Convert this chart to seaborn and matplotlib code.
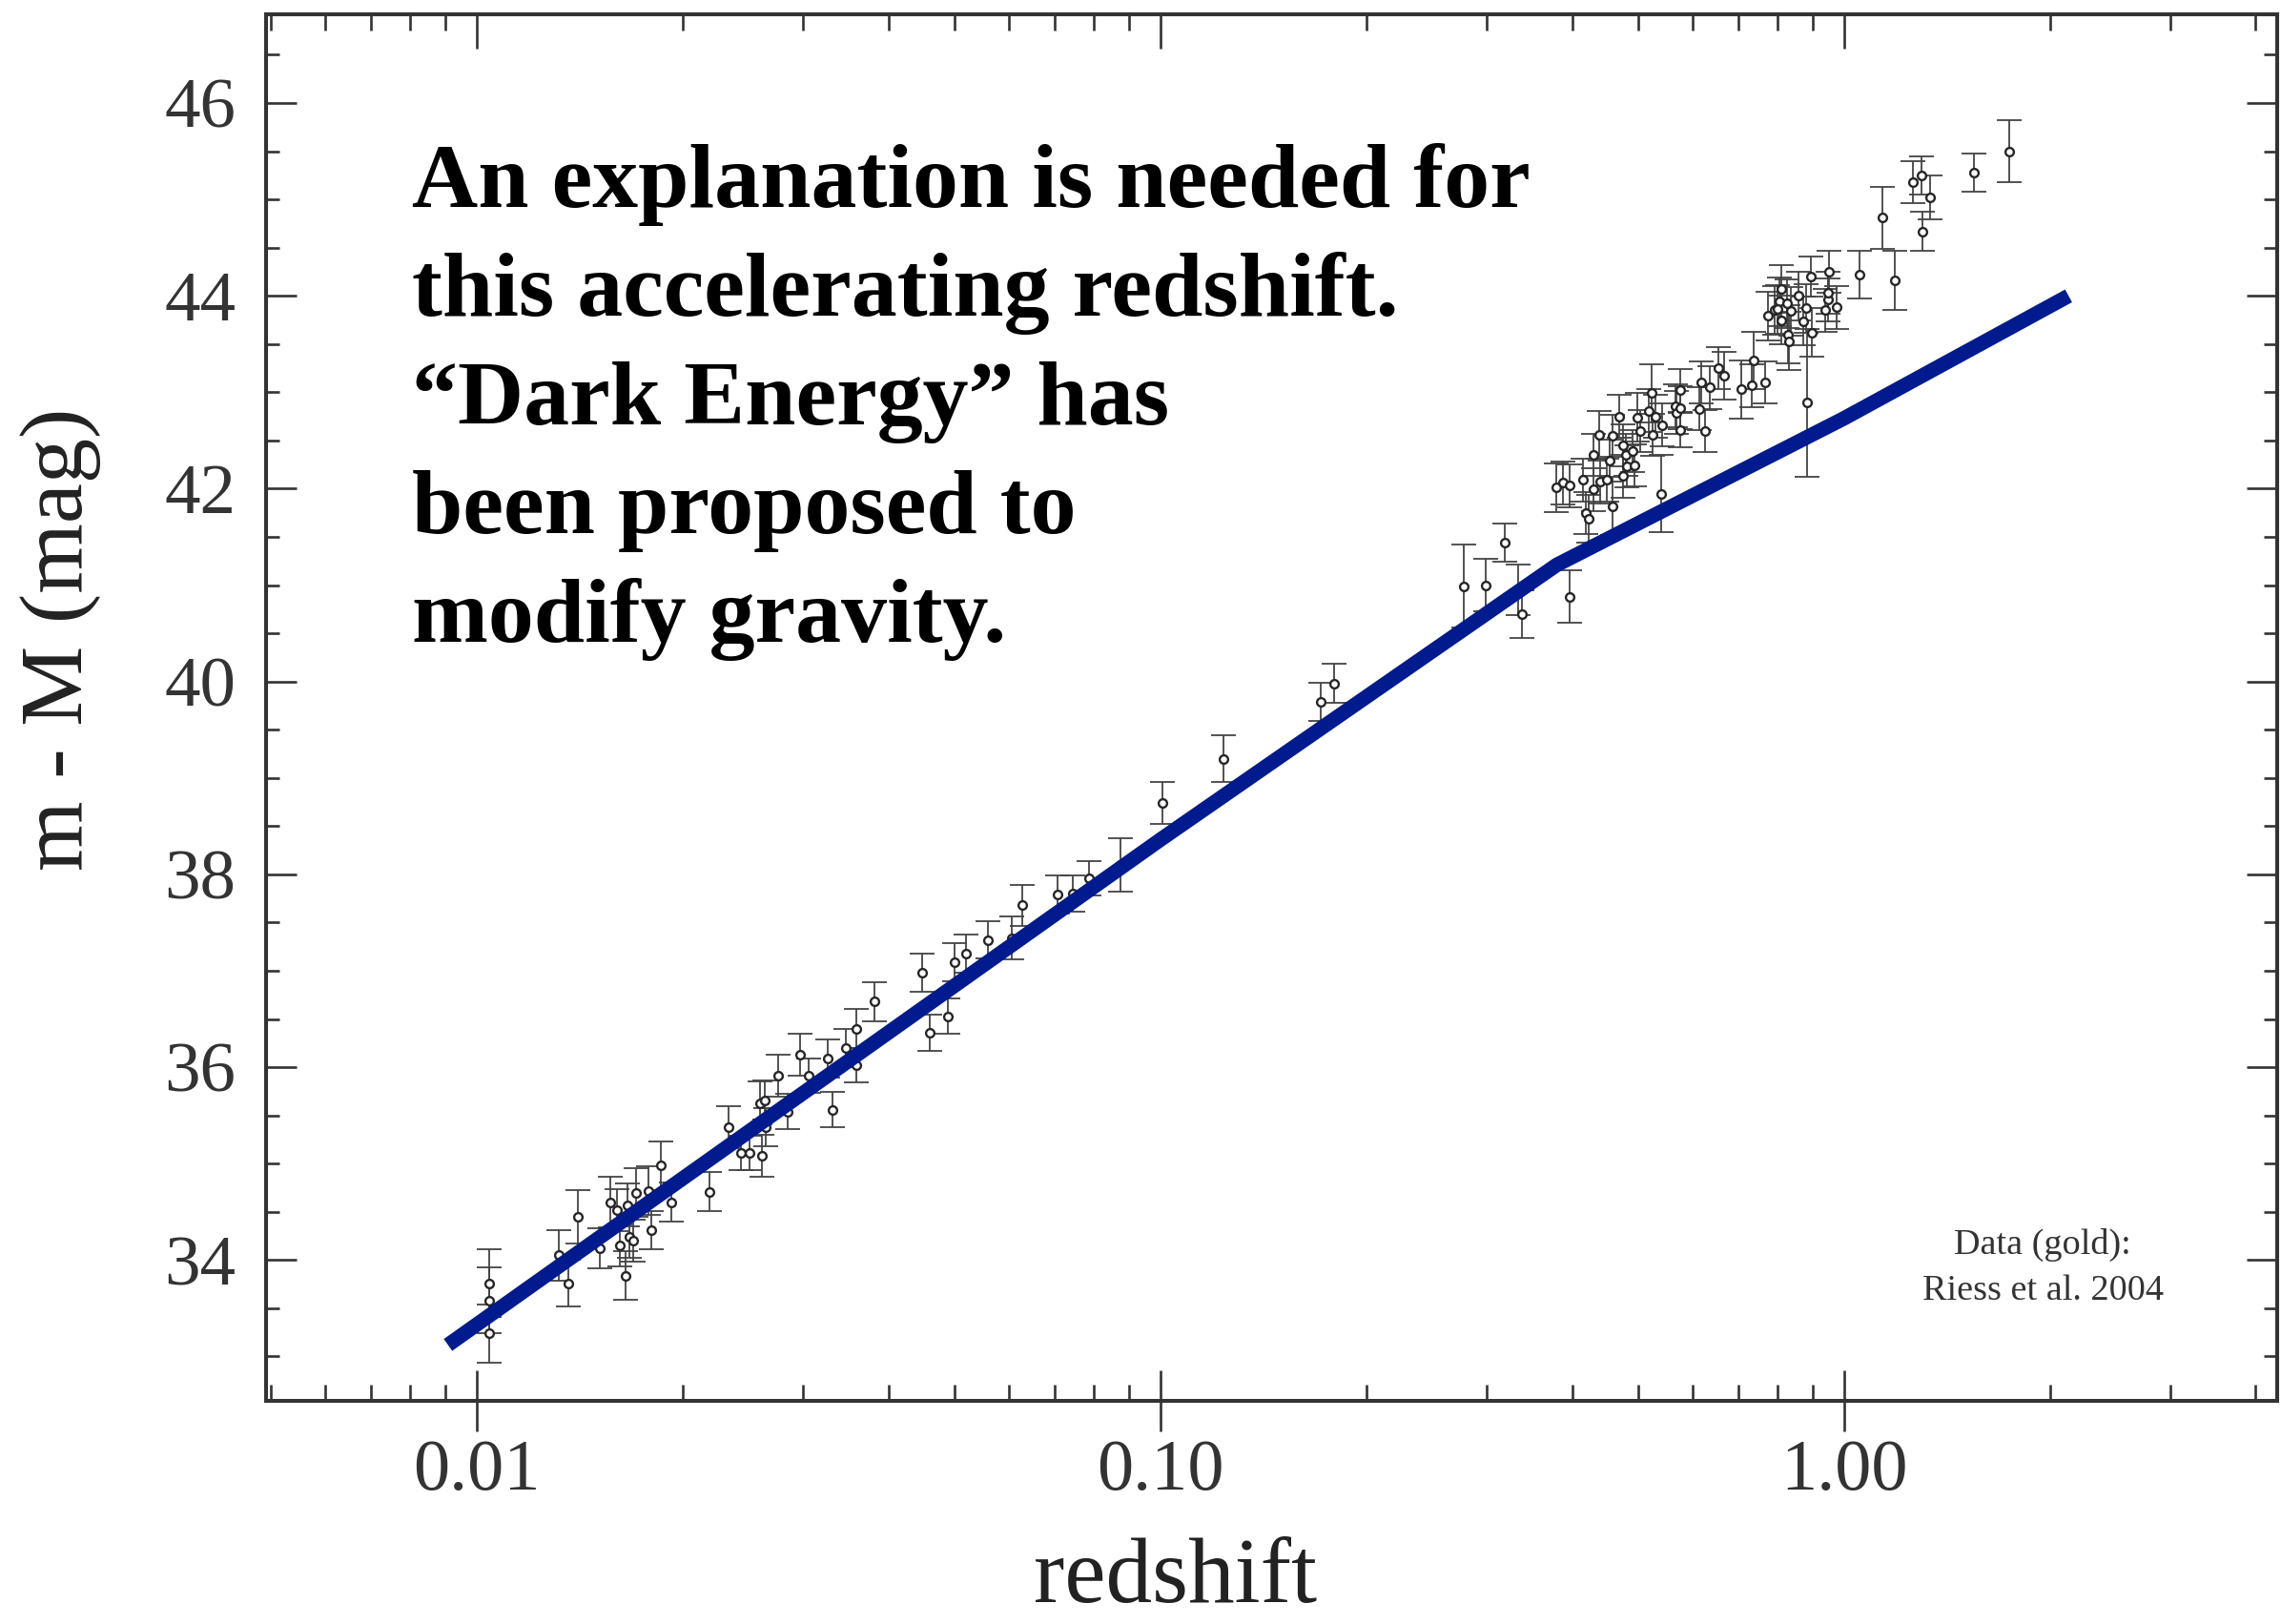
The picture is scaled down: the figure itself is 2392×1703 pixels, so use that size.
import numpy as np
import pandas as pd
import matplotlib
matplotlib.use("Agg")
import matplotlib.pyplot as plt
import seaborn as sns
from matplotlib.ticker import FixedLocator, FixedFormatter, NullFormatter, MultipleLocator, LogLocator

# ---------------- data ----------------
redshift = [
    0.01042, 0.01042, 0.01042, 0.01318, 0.01406, 0.01361, 0.01514, 0.0157, 0.01604, 0.01619,
    0.01651, 0.01672, 0.01696, 0.0166, 0.01708, 0.01782, 0.01803, 0.01862, 0.01925, 0.02189,
    0.02337, 0.02438, 0.02506, 0.02615, 0.02595, 0.02638, 0.02648, 0.02756, 0.02854, 0.02972,
    0.0306, 0.03266, 0.0331, 0.03468, 0.0359, 0.0359, 0.03814, 0.04487, 0.04597, 0.04891,
    0.05006, 0.05189, 0.0559, 0.0607, 0.0629, 0.0708, 0.0745, 0.0786, 0.0873, 0.1007,
    0.1238, 0.1715, 0.1796, 0.2777, 0.2992, 0.3192, 0.3334, 0.3384, 0.3965, 0.3795,
    0.3882, 0.3974, 0.415, 0.4191, 0.4237, 0.4296, 0.4293, 0.439, 0.4395, 0.4494,
    0.4543, 0.4583, 0.4588, 0.4692, 0.4743, 0.4749, 0.4794, 0.4812, 0.4897, 0.4935,
    0.4989, 0.5038, 0.518, 0.5236, 0.5243, 0.5294, 0.5393, 0.5414, 0.5676, 0.5683,
    0.5752, 0.5752, 0.5752, 0.6142, 0.6178, 0.627, 0.6367, 0.6549, 0.6669, 0.7079,
    0.7322, 0.7374, 0.767, 0.774, 0.792, 0.805, 0.81, 0.81, 0.7986, 0.8273,
    0.8317, 0.836, 0.826, 0.859, 0.8726, 0.88, 0.8966, 0.894, 0.8837, 0.938,
    0.946, 0.9495, 0.946, 0.9745, 1.0527, 1.1385, 1.188, 1.2603, 1.297, 1.3366,
    1.301, 1.548, 1.746,
]
distance_modulus = [
    33.76, 33.58, 33.24, 34.05, 34.45, 33.76, 34.12, 34.60, 34.52, 34.15,
    33.84, 34.24, 34.20, 34.57, 34.70, 34.72, 34.31, 34.98, 34.60, 34.71,
    35.38, 35.11, 35.11, 35.08, 35.63, 35.66, 35.38, 35.91, 35.54, 36.13,
    35.91, 36.09, 35.56, 36.20, 36.40, 36.02, 36.68, 36.98, 36.36, 36.53,
    37.09, 37.18, 37.32, 37.34, 37.68, 37.79, 37.80, 37.96, 38.10, 38.74,
    39.20, 39.79, 39.98, 40.99, 41.00, 41.44, 40.95, 40.70, 40.88, 42.01,
    42.06, 42.03, 42.09, 41.75, 41.69, 42.35, 41.99, 42.56, 42.07, 42.09,
    42.29, 41.82, 42.55, 42.75, 42.45, 42.13, 42.35, 42.23, 42.39, 42.24,
    42.74, 42.60, 42.81, 42.99, 42.56, 42.75, 41.95, 42.66, 42.86, 42.79,
    42.84, 43.02, 42.61, 42.83, 43.10, 42.60, 43.05, 43.25, 43.17, 43.03,
    43.07, 43.33, 43.10, 43.79, 43.85, 43.94, 43.75, 44.07, 43.86, 43.60,
    43.53, 43.84, 43.92, 44.00, 43.74, 43.87, 43.62, 44.20, 42.89, 43.85,
    43.96, 44.25, 44.03, 43.88, 44.22, 44.81, 44.16, 45.18, 45.25, 45.02,
    44.67, 45.28, 45.50,
]
modulus_error = [
    0.35, 0.34, 0.30, 0.26, 0.28, 0.24, 0.21, 0.26, 0.22, 0.22,
    0.25, 0.22, 0.22, 0.22, 0.25, 0.25, 0.20, 0.25, 0.20, 0.20,
    0.22, 0.18, 0.18, 0.22, 0.22, 0.20, 0.20, 0.22, 0.18, 0.22,
    0.18, 0.20, 0.18, 0.20, 0.20, 0.18, 0.20, 0.20, 0.19, 0.18,
    0.20, 0.20, 0.19, 0.22, 0.21, 0.20, 0.19, 0.18, 0.28, 0.22,
    0.24, 0.20, 0.20, 0.43, 0.27, 0.20, 0.26, 0.25, 0.27, 0.25,
    0.22, 0.22, 0.22, 0.22, 0.25, 0.22, 0.22, 0.25, 0.22, 0.22,
    0.22, 0.30, 0.22, 0.22, 0.22, 0.22, 0.22, 0.22, 0.22, 0.22,
    0.25, 0.22, 0.22, 0.30, 0.22, 0.22, 0.40, 0.22, 0.22, 0.22,
    0.22, 0.22, 0.18, 0.22, 0.22, 0.22, 0.22, 0.22, 0.25, 0.30,
    0.22, 0.30, 0.22, 0.25, 0.25, 0.25, 0.25, 0.25, 0.25, 0.30,
    0.30, 0.25, 0.25, 0.25, 0.25, 0.25, 0.25, 0.21, 0.77, 0.22,
    0.22, 0.22, 0.22, 0.22, 0.25, 0.32, 0.31, 0.22, 0.20, 0.23,
    0.20, 0.20, 0.32,
]
model_redshift = [0.00908, 0.1, 0.38, 1.0, 2.13]
model_modulus = [33.12, 38.36, 41.21, 42.73, 44.0]

x_tick_values = [0.01, 0.1, 1.0]
x_tick_labels = ["0.01", "0.10", "1.00"]

note_lines = [
    "An explanation is needed for",
    "this accelerating redshift.",
    "\u201cDark Energy\u201d has",
    "been proposed to",
    "modify gravity.",
]
credit_lines = ["Data (gold):", "Riess et al. 2004"]

# ---------------- figure ----------------
sns.set_theme(style="white")
plt.rcParams["font.family"] = ["Liberation Serif", "DejaVu Serif"]

W, H = 2392, 1703
fig = plt.figure(figsize=(W / 100, H / 100), dpi=100)
fig.patch.set_facecolor("white")
ax = fig.add_axes([279 / W, 1 - 1469 / H, (2388 - 279) / W, (1469 - 15) / H])
ax.set_facecolor("white")
ax.set_xscale("log")

df = pd.DataFrame({"z": redshift, "mu": distance_modulus, "err": modulus_error})
model = pd.DataFrame({"z": model_redshift, "mu": model_modulus})

ax.errorbar(df["z"], df["mu"], yerr=df["err"], fmt="none", ecolor="#444444",
            elinewidth=1.3, capsize=9.5, capthick=1.3, zorder=2)
sns.scatterplot(data=df, x="z", y="mu", marker="o", s=40, color="white",
                edgecolor="#262626", linewidth=1.7, ax=ax, zorder=3, legend=False)
sns.lineplot(data=model, x="z", y="mu", sort=False, estimator=None,
             color="#011b8e", linewidth=11, ax=ax, zorder=4,
             solid_capstyle="butt", solid_joinstyle="round")

ax.set_xlim(0.00492, 4.30)
ax.set_ylim(32.54, 46.92)
ax.set_xlabel("")
ax.set_ylabel("")

spine_color = "#333333"
for s in ax.spines.values():
    s.set_linewidth(2.9)
    s.set_color(spine_color)
    s.set_visible(True)

ax.xaxis.set_major_locator(FixedLocator(x_tick_values))
ax.xaxis.set_major_formatter(FixedFormatter(x_tick_labels))
ax.xaxis.set_minor_locator(LogLocator(base=10, subs=np.arange(2, 10)))
ax.xaxis.set_minor_formatter(NullFormatter())
ax.yaxis.set_major_locator(MultipleLocator(2))
ax.yaxis.set_minor_locator(MultipleLocator(0.5))

ax.tick_params(axis="x", which="major", direction="inout", length=46, width=1.9,
               bottom=True, top=False, labelsize=55, labelcolor="#333333",
               color=spine_color, pad=6)
ax.tick_params(axis="x", which="minor", direction="in", length=12, width=1.9,
               bottom=True, top=False, color=spine_color)
ax.tick_params(axis="y", which="major", direction="in", length=23, width=1.9,
               left=True, right=True, labelsize=54, labelcolor="#333333",
               color=spine_color, pad=23)
ax.tick_params(axis="y", which="minor", direction="in", length=10, width=1.9,
               left=True, right=True, color=spine_color)

sec = ax.secondary_xaxis("top")
sec.xaxis.set_major_locator(FixedLocator(x_tick_values))
sec.xaxis.set_major_formatter(NullFormatter())
sec.xaxis.set_minor_locator(LogLocator(base=10, subs=np.arange(2, 10)))
sec.xaxis.set_minor_formatter(NullFormatter())
sec.tick_params(axis="x", which="major", direction="in", length=26, width=1.9, color=spine_color)
sec.tick_params(axis="x", which="minor", direction="in", length=12, width=1.9, color=spine_color)
sec.spines["top"].set_linewidth(2.9)
sec.spines["top"].set_color(spine_color)

# axis labels (placed in figure pixels)
fig.text(1233 / W, 2 / H, "redshift", fontsize=70, color="#222222",
         ha="center", va="bottom")
fig.text(64 / W, 1 - 670 / H, "m - M (mag)", fontsize=68, color="#222222",
         rotation=90, ha="center", va="center")

# annotation block
for i, line in enumerate(note_lines):
    fig.text(432 / W, 1 - (217 + 114 * i) / H, line, fontsize=69,
             fontweight="bold", color="black", ha="left", va="baseline")

# data credit
for i, line in enumerate(credit_lines):
    fig.text(2142 / W, 1 - (1315 + 48 * i) / H, line, fontsize=27.5,
             color="#333333", ha="center", va="baseline")

fig.savefig("out.png", dpi=100, facecolor="white")
